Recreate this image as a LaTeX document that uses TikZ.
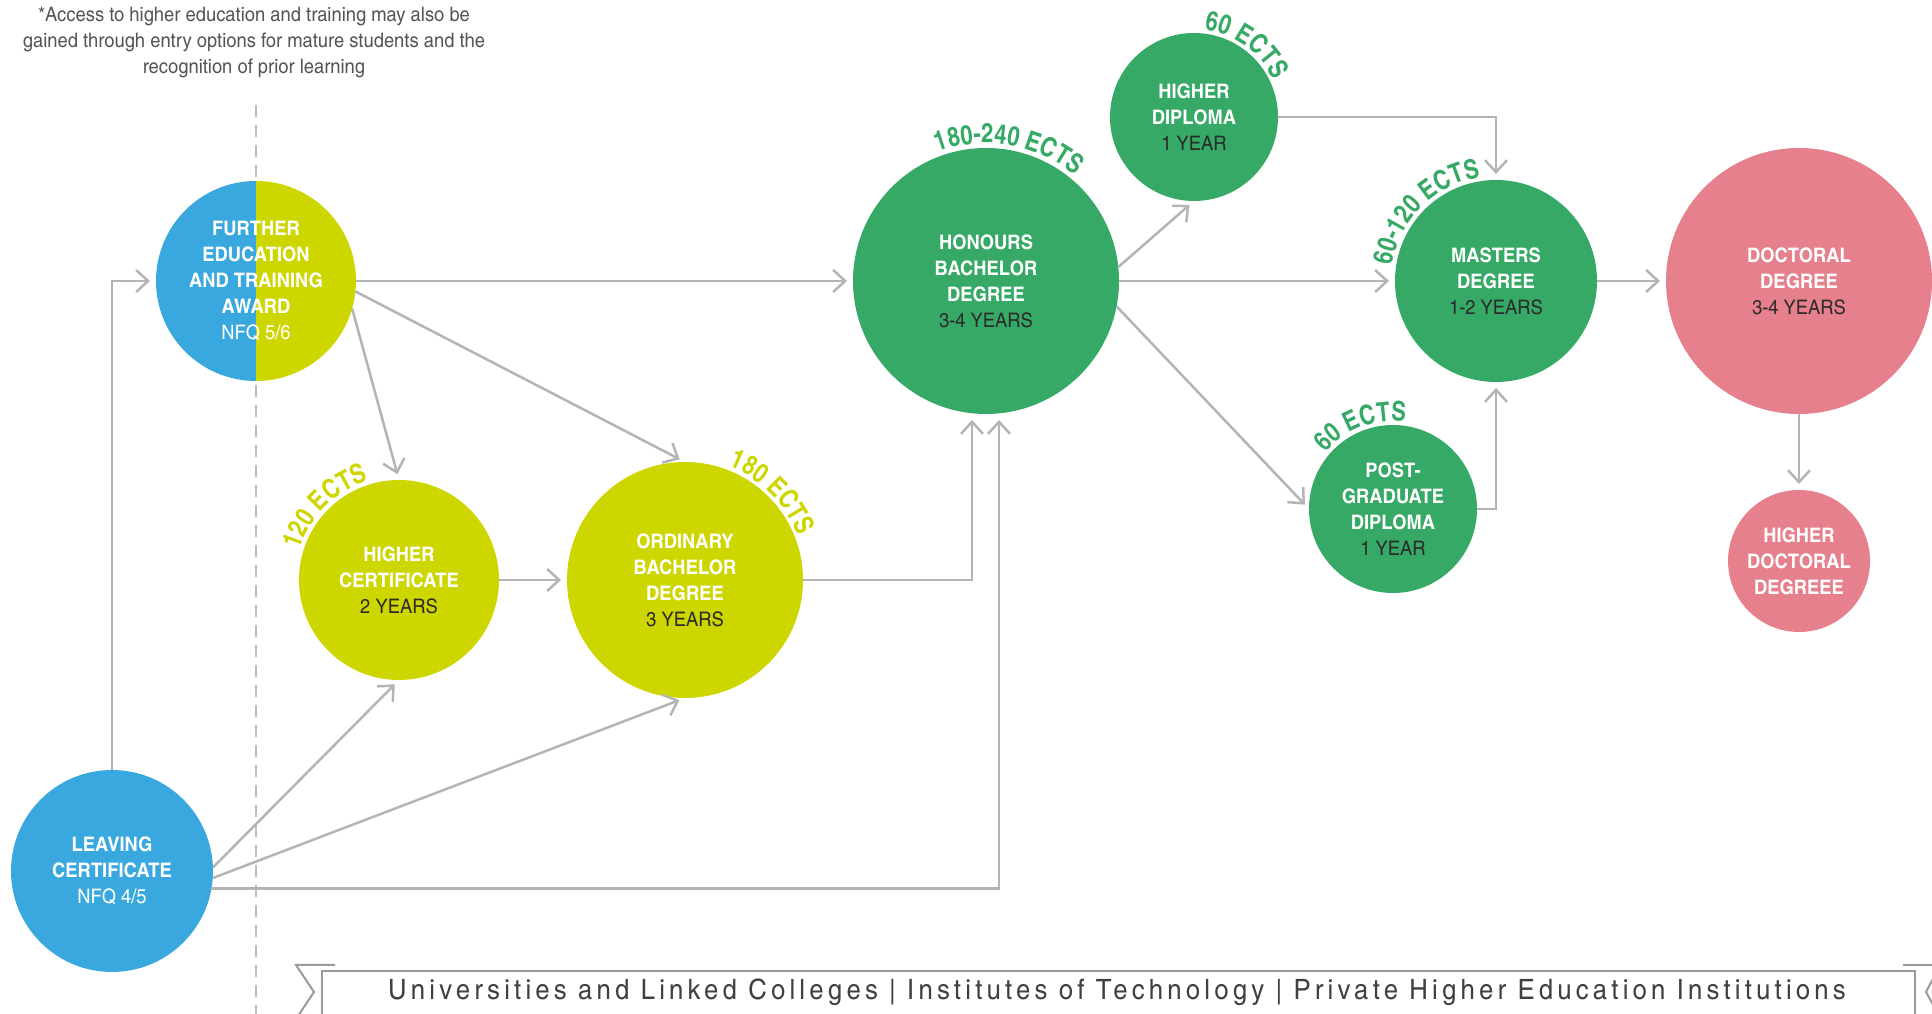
\documentclass[tikz,border=0pt]{standalone}
\usepackage{fontspec}
\setmainfont{texgyreheroscn}[Extension=.otf, UprightFont=*-regular, BoldFont=*-bold, ItalicFont=*-italic, BoldItalicFont=*-bolditalic, FakeStretch=1.12]
\newfontfamily\ectsfamily{texgyreheroscn}[Extension=.otf, UprightFont=*-bold]
\usetikzlibrary{arrows.meta,decorations.text}

\definecolor{lcblue}{HTML}{38A8DF}
\definecolor{lime}{HTML}{CED600}
\definecolor{ectsgreen}{HTML}{35A965}
\definecolor{docpink}{HTML}{E6808D}
\definecolor{arrowgray}{HTML}{B4B4B4}
\definecolor{notegray}{HTML}{555555}
\definecolor{yeartext}{HTML}{2B2B2B}
\definecolor{ribbongray}{HTML}{9A9A9A}

\newcommand{\ectsfont}{\ectsfamily\fontsize{27}{27}\selectfont}

\begin{document}
\begin{tikzpicture}[x=1pt,y=1pt,
        award/.style={circle,inner sep=0pt,outer sep=0pt,align=center,text=white,font=\fontsize{20}{26}\selectfont\bfseries},
        arr/.style={draw=arrowgray,line width=2.5pt,-{Straight Barb[length=12pt,width=22pt]},shorten >=6pt},
        ects/.style 2 args={decorate,decoration={text along path,text align=center,text color=#1,text={|\ectsfont|#2}}},
        ribbon/.style={draw=ribbongray,line width=2pt}]
            \useasboundingbox (0,0) rectangle (1932,1014);
            \clip (0,0) rectangle (1932,1014);
            \draw[lightgray,line width=1.5pt,dash pattern=on 12pt off 8pt] (256,909) -- (256,0);

            \node[text=notegray,align=center,font=\fontsize{20}{26}\selectfont] (note) at (254,971)
                {*Access to higher education and training may also be\\gained through entry options for mature students and the\\recognition of prior learning};

            \fill[lcblue] (256,633) arc (-90:-270:100) -- cycle;
            \fill[lime] (256,633) arc (-90:90:100) -- cycle;
            \node[award,minimum size=200pt] (feta) at (256,733) {FURTHER\\EDUCATION\\AND TRAINING\\AWARD\\\mdseries NFQ 5/6};
            \node[award,fill=lcblue,minimum size=202pt] (lc) at (112,143) {LEAVING\\CERTIFICATE\\\mdseries NFQ 4/5};
            \node[award,fill=lime,minimum size=200pt] (hc) at (399,434) {HIGHER\\CERTIFICATE\\\mdseries\color{yeartext}2 YEARS};
            \node[award,fill=lime,minimum size=236pt] (obd) at (685,434) {ORDINARY\\BACHELOR\\DEGREE\\\mdseries\color{yeartext}3 YEARS};
            \node[award,fill=ectsgreen,minimum size=266pt] (hbd) at (986,733) {HONOURS\\BACHELOR\\DEGREE\\\mdseries\color{yeartext}3-4 YEARS};
            \node[award,fill=ectsgreen,minimum size=168pt] (hd) at (1194,897) {HIGHER\\DIPLOMA\\\mdseries\color{yeartext}1 YEAR};
            \node[award,fill=ectsgreen,minimum size=202pt] (md) at (1496,733) {MASTERS\\DEGREE\\\mdseries\color{yeartext}1-2 YEARS};
            \node[award,fill=ectsgreen,minimum size=168pt] (pgd) at (1393,505) {POST-\\GRADUATE\\DIPLOMA\\\mdseries\color{yeartext}1 YEAR};
            \node[award,fill=docpink,minimum size=266pt] (dd) at (1799,733) {DOCTORAL\\DEGREE\\\mdseries\color{yeartext}3-4 YEARS};
            \node[award,fill=docpink,minimum size=142pt] (hdd) at (1799,453) {HIGHER\\DOCTORAL\\DEGREEE};

            \path[ects={lime}{120 ECTS}] ([shift={(205:104)}]hc.center) arc (205:65:104);
            \path[ects={lime}{180 ECTS}] ([shift={(115:122)}]obd.center) arc (115:-25:122);
            \path[ects={ectsgreen}{180-240 ECTS}] ([shift={(150:138)}]hbd.center) arc (150:10:138);
            \path[ects={ectsgreen}{60 ECTS}] ([shift={(124:88)}]hd.center) arc (124:-16:88);
            \path[ects={ectsgreen}{60-120 ECTS}] ([shift={(205:105)}]md.center) arc (205:65:105);
            \path[ects={ectsgreen}{60 ECTS}] ([shift={(181:88)}]pgd.center) arc (181:41:88);

            \draw[arr] (lc.north) |- (feta.west);
            \draw[arr] (feta.east) -- (hbd.west);
            \draw[arr] (feta.-6) -- (obd.north);
            \draw[arr] (feta.-16) -- (hc.north);
            \draw[arr] (hc.east) -- (obd.west);
            \draw[arr] (obd.east) -| ([xshift=-14pt]hbd.south);
            \draw[arr] (lc.2) -- (hc.south);
            \draw[arr] (lc.-4) -- (obd.south);
            \draw[arr] (lc.-10) -| ([xshift=13pt]hbd.south);
            \draw[arr] (hbd.6) -- (hd.south);
            \draw[arr] (hbd.east) -- (md.west);
            \draw[arr] (hbd.-11) -- (pgd.west);
            \draw[arr] (hd.east) -| (md.north);
            \draw[arr] (pgd.east) -| (md.south);
            \draw[arr] (md.east) -- (dd.west);
            \draw[arr] (dd.south) -- (hdd.north);

            \draw[ribbon] (335,49) -- (296,49) -- (314,22) -- (296,-5);
            \draw[ribbon] (1903,49) -- (1940,49);
            \draw[ribbon] (1938,45) -- (1926,22) -- (1938,0);
            \draw[ribbon,fill=white] (322,-5) |- (1915,43) -- (1915,-5);
            \node[text=darkgray,font=\fontsize{28}{28}\selectfont\addfontfeature{LetterSpace=15}] (inst) at (1117,22)
                {Universities and Linked Colleges | Institutes of Technology | Private Higher Education Institutions};
        \end{tikzpicture}
\end{document}
